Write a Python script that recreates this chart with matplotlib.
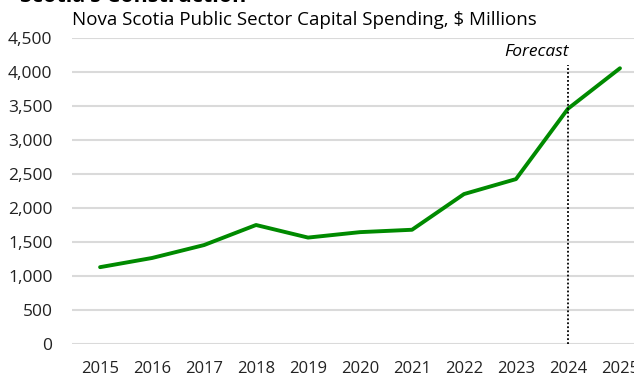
import matplotlib.pyplot as plt

plt.rcParams['font.family'] = ['Open Sans', 'DejaVu Sans']

# Public sector capital spending, $ millions (2024-2025 forecast)
years = [2015, 2016, 2017, 2018, 2019, 2020, 2021, 2022, 2023, 2024, 2025]
spending = [1130, 1265, 1455, 1750, 1565, 1645, 1680, 2205, 2425, 3460, 4055]
forecast_year = 2024
y_ticks = [0, 500, 1000, 1500, 2000, 2500, 3000, 3500, 4000, 4500]

fig = plt.figure(figsize=(6.34, 3.74), dpi=100)
ax = fig.add_axes([72 / 634, 30 / 374, 1 - 72 / 634, 306 / 374])

ax.plot(years, spending, color='#008a00', linewidth=2.8, solid_capstyle='round',
        zorder=3)

# forecast marker
ax.plot([forecast_year, forecast_year], [0, 4100], color='black',
        linestyle=(0, (1, 1.2)), linewidth=1.3, zorder=4)
ax.text(forecast_year + 0.02, 4170, 'Forecast', style='italic', fontsize=12.5,
        ha='right', va='bottom')

ax.set_xlim(2014.46, 2025.27)
ax.set_ylim(0, 4500)
ax.set_yticks(y_ticks)
ax.set_yticklabels([f'{v:,}' for v in y_ticks])
ax.set_xticks(years)
ax.tick_params(axis='both', length=0, colors='#222222')
ax.tick_params(axis='y', pad=14, labelsize=12.5)
ax.tick_params(axis='x', pad=12, labelsize=12)

ax.grid(axis='y', color='#dadada', linewidth=1.5)
ax.set_axisbelow(True)
for side in ax.spines.values():
    side.set_visible(False)

fig.text(20 / 634, 1 - 2 / 374, "Scotia's Construction", fontsize=15.5,
         fontweight='bold', ha='left', va='baseline')
fig.text(72 / 634, 1 - 20 / 374, 'Nova Scotia Public Sector Capital Spending, $ Millions',
         fontsize=13.5, ha='left', va='center')

fig.savefig('out.png', dpi=100)
